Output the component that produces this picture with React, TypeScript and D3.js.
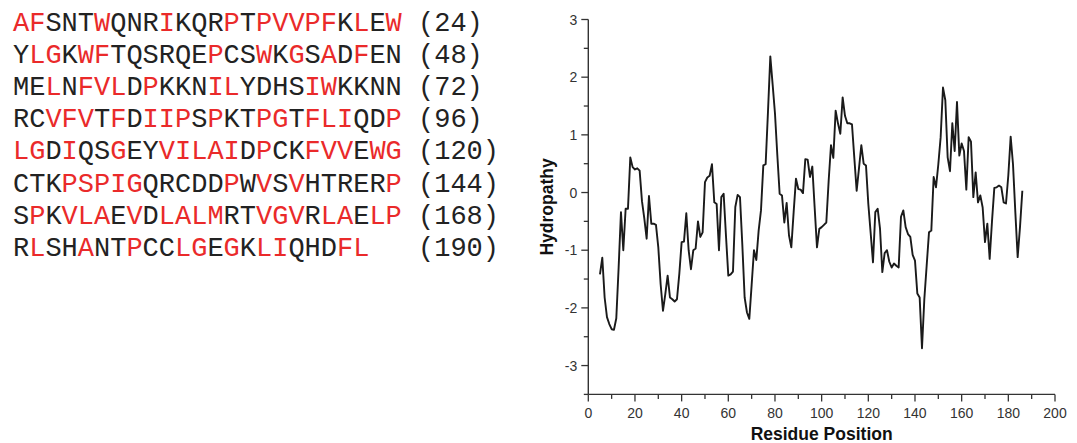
import React from 'react'
import * as d3 from 'd3'

// protein sequence, 24 residues per row, with the running count at the end
const seqRows = [
  'AFSNTWQNRIKQRPTPVVPFKLEW',
  'YLGKWFTQSRQEPCSWKGSADFEN',
  'MELNFVLDPKKNILYDHSIWKKNN',
  'RCVFVTFDIIPSPKTPGTFLIQDP',
  'LGDIQSGEYVILAIDPCKFVVEWG',
  'CTKPSPIGQRCDDPWVSVHTRERP',
  'SPKVLAEVDLALMRTVGVRLAELP',
  'RLSHANTPCCLGEGKLIQHDFL',
]
const seqEnds = [24, 48, 72, 96, 120, 144, 168, 190]
// 1 = residue printed in red
const redMask = [
  '110001000100010111110101',
  '011011000000100101010100',
  '001011101000110000110000',
  '001110101110100110111001',
  '110100100111110100111011',
  '000111110000010101000001',
  '010111010111100111011011',
  '0100100100110101100011',
]

// hydropathy profile, first value is at residue 5
const firstResidue = 5
const hydropathy = [
  -1.42, -1.13, -1.82, -2.16, -2.28, -2.37, -2.38, -2.18, -1.30, -0.34,
  -1.00, -0.28, -0.28, 0.61, 0.44, 0.40, 0.42, 0.38, -0.15, -0.45,
  -0.80, -0.06, -0.54, -0.54, -0.56, -0.95, -1.59, -2.05, -1.76, -1.44,
  -1.82, -1.85, -1.89, -1.85, -1.41, -0.86, -0.85, -0.36, -1.00, -1.33,
  -1.00, -0.97, -0.50, -0.77, -0.69, 0.18, 0.26, 0.29, 0.49, -0.17,
  -0.20, -1.00, -0.08, -0.02, -0.75, -1.44, -1.42, -1.37, -0.25, -0.04,
  -0.08, -0.90, -1.82, -2.08, -2.19, -1.60, -1.00, -1.17, -0.66, -0.31,
  0.47, 0.49, 1.40, 2.36, 1.87, 1.37, 0.65, -0.02, -0.05, -0.52,
  -0.18, -0.74, -0.95, -0.34, 0.24, 0.06, 0.05, -0.01, 0.58, 0.57,
  0.27, 0.45, -0.26, -0.95, -0.63, -0.60, -0.56, -0.52, 0.20, 0.82,
  0.60, 1.42, 1.20, 1.02, 1.65, 1.33, 1.20, 1.20, 1.18, 0.60,
  0.03, 0.42, 0.82, 0.50, 0.47, -0.20, -0.70, -1.21, -0.34, -0.28,
  -0.62, -1.38, -1.05, -1.00, -1.20, -1.30, -1.23, -1.27, -1.30, -0.42,
  -0.31, -0.60, -0.72, -0.77, -1.08, -1.18, -1.75, -1.82, -2.70, -1.85,
  -1.27, -0.69, -0.66, 0.27, 0.09, 0.49, 0.96, 1.82, 1.60, 0.61,
  0.37, 1.20, 0.72, 1.57, 0.64, 0.85, 0.72, 0.05, 0.96, 0.88,
  -0.08, 0.35, -0.17, -0.05, -0.26, -0.86, -0.54, -1.15, -0.50, 0.08,
  0.09, 0.12, 0.09, -0.17, -0.19, 0.30, 0.97, 0.49, -0.34, -1.12,
  -0.60, 0.03,
]

const xMajor = [0, 20, 40, 60, 80, 100, 120, 140, 160, 180, 200]
const yMajor = [-3, -2, -1, 0, 1, 2, 3]

const RED = '#ea2a2a'
const INK = '#222'
const AXIS = '#333'
const SANS = 'Arial, "Liberation Sans", Helvetica, sans-serif'
const MONO = '"Courier New", "Liberation Mono", monospace'

export default function App() {
  const W = 1077, H = 443
  const x = d3.scaleLinear().domain([0, 200]).range([588.3, 1055])
  const y = d3.scaleLinear().domain([-3.5, 3]).range([394.4, 19.5])
  const x0 = x.range()[0], yb = y.range()[0]

  const pts: [number, number][] = hydropathy.map((v, i) => [firstResidue + i, v])
  const path = d3.line<[number, number]>()
    .x(d => x(d[0]))
    .y(d => y(d[1]))(pts)

  const xMinor = d3.range(10, 200, 20)
  const yMinor = d3.range(-3.5, 3, 1)

  // sequence block
  const charW = 16.2, fs = 27, seqX = 13, seqY0 = 30.5, seqDy = 32.2

  return (
    <div style={{position: 'absolute', left: 0, top: 0}}>
      <svg width={W} height={H} style={{display: 'block', background: '#fff'}}>
        {/* left: coloured sequence */}
        <g fontFamily={MONO} fontSize={fs}>
          {seqRows.map((row, r) => (
            <g key={r}>
              {row.split('').map((c, i) => (
                <text key={i} x={seqX + i * charW} y={seqY0 + r * seqDy}
                  fill={redMask[r][i] === '1' ? RED : INK}>{c}</text>
              ))}
              <text x={seqX + 25 * charW} y={seqY0 + r * seqDy} fill={INK}>
                ({seqEnds[r]})
              </text>
            </g>
          ))}
        </g>

        {/* right: hydropathy plot */}
        <g fontFamily={SANS}>
          <line x1={x0} x2={x0} y1={y(3)} y2={yb} stroke={AXIS} strokeWidth={1.4} />
          <line x1={x0} x2={x(200)} y1={yb} y2={yb} stroke={AXIS} strokeWidth={1.4} />

          {yMajor.map(v => (
            <g key={'ym' + v}>
              <line x1={x0 - 7} x2={x0} y1={y(v)} y2={y(v)} stroke={AXIS} strokeWidth={1.3} />
              <text x={x0 - 11} y={y(v) + 5} textAnchor="end" fontSize={14} fill={AXIS}>{v}</text>
            </g>
          ))}
          {yMinor.map(v => (
            <line key={'yn' + v} x1={x0 - 4.5} x2={x0} y1={y(v)} y2={y(v)} stroke={AXIS} strokeWidth={1.3} />
          ))}
          {xMajor.map(v => (
            <g key={'xm' + v}>
              <line x1={x(v)} x2={x(v)} y1={yb} y2={yb + 7} stroke={AXIS} strokeWidth={1.3} />
              <text x={x(v)} y={418} textAnchor="middle" fontSize={14} fill={AXIS}>{v}</text>
            </g>
          ))}
          {xMinor.map(v => (
            <line key={'xn' + v} x1={x(v)} x2={x(v)} y1={yb} y2={yb + 4.5} stroke={AXIS} strokeWidth={1.3} />
          ))}

          <text x={(x0 + x(200)) / 2} y={440} textAnchor="middle" fontSize={17.5}
            fontWeight="bold" fill="#111">Residue Position</text>
          <text transform={`translate(553,${(y(3) + yb) / 2}) rotate(-90)`} textAnchor="middle"
            fontSize={17.5} fontWeight="bold" fill="#111">Hydropathy</text>

          <path d={path || ''} fill="none" stroke="#1a1a1a" strokeWidth={1.9}
            strokeLinejoin="round" />
        </g>
      </svg>
    </div>
  )
}
